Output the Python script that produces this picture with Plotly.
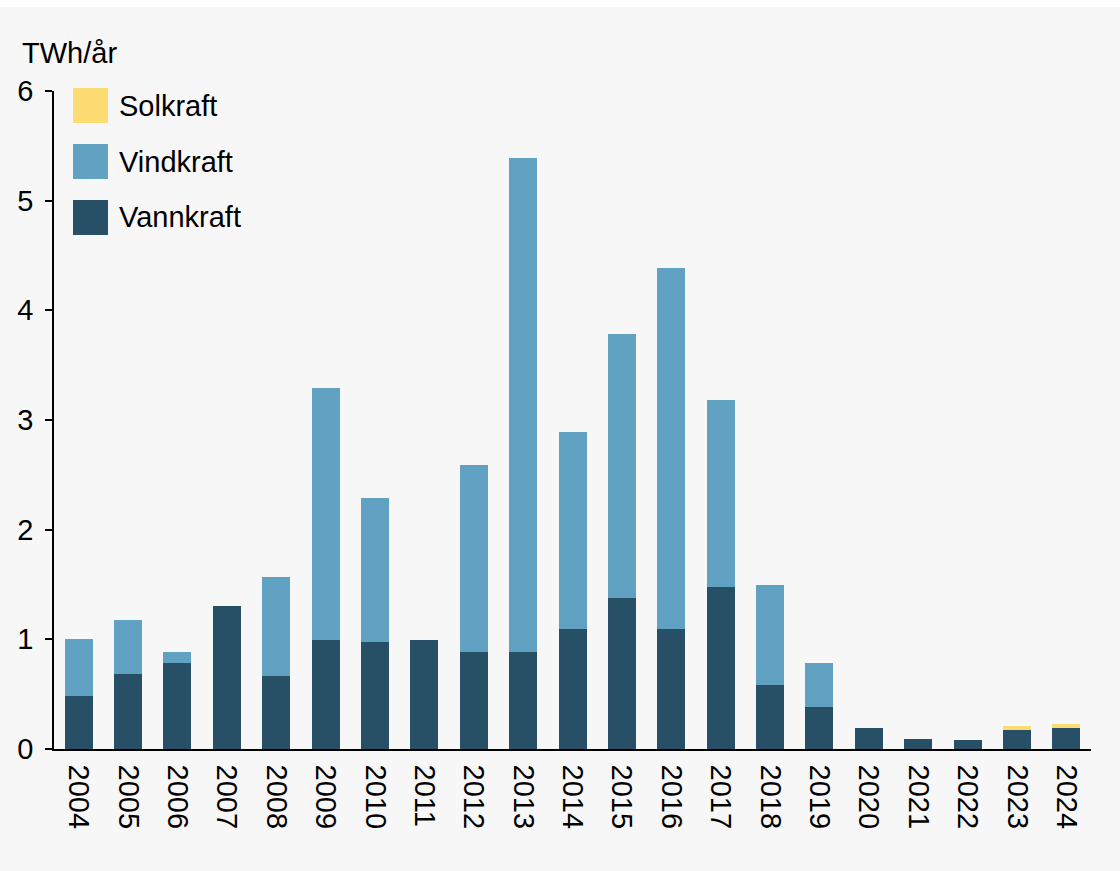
import plotly.graph_objects as go

years = [str(y) for y in range(2004, 2025)]
vannkraft = [0.48, 0.68, 0.78, 1.30, 0.67, 0.99, 0.98, 0.99, 0.88, 0.88, 1.09,
             1.38, 1.09, 1.48, 0.58, 0.38, 0.19, 0.09, 0.08, 0.17, 0.19]
vindkraft = [0.52, 0.50, 0.10, 0.00, 0.90, 2.30, 1.31, 0.00, 1.71, 4.51, 1.80,
             2.40, 3.30, 1.70, 0.92, 0.40, 0.00, 0.00, 0.00, 0.00, 0.00]
solkraft = [0, 0, 0, 0, 0, 0, 0, 0, 0, 0, 0,
            0, 0, 0, 0, 0, 0, 0, 0, 0.04, 0.04]

series_names = ["Vannkraft", "Vindkraft", "Solkraft"]
series_colors = ["#275066", "#61A2C3", "#FDDC74"]
series_values = [vannkraft, vindkraft, solkraft]

y_ticks = [0, 1, 2, 3, 4, 5, 6]
unit_label = "TWh/år"

FONT = "Liberation Sans, Arial, Helvetica, sans-serif"
FS = 29
W, H = 1120, 871
ML, MR, MT, MB = 54, 29, 91, 122
PW, PH = W - ML - MR, H - MT - MB

fig = go.Figure()
for name, color, vals in zip(series_names, series_colors, series_values):
    fig.add_trace(go.Bar(x=years, y=vals, name=name, marker_color=color,
                         marker_line_width=0, showlegend=False))

# custom legend (large swatches)
legend_order = ["Solkraft", "Vindkraft", "Vannkraft"]
color_of = dict(zip(series_names, series_colors))
sw_x0, sw_x1 = 73, 108
row_top0, row_h, row_step = 88, 35, 56
shapes = []
annotations = []
for i, name in enumerate(legend_order):
    top = row_top0 + i * row_step
    y0 = 1 - (top + row_h - MT) / PH
    y1 = 1 - (top - MT) / PH
    shapes.append(dict(type="rect", xref="paper", yref="paper",
                       x0=(sw_x0 - ML) / PW, x1=(sw_x1 - ML) / PW,
                       y0=y0, y1=y1, fillcolor=color_of[name],
                       line=dict(width=0)))
    annotations.append(dict(text=name, xref="paper", yref="paper",
                            x=(117 - ML) / PW, y=(y0 + y1) / 2,
                            xanchor="left", yanchor="middle", showarrow=False,
                            font=dict(family=FONT, size=FS, color="#000000")))

annotations.append(dict(text=unit_label, xref="paper", yref="paper",
                        x=(20 - ML) / PW, y=1 + (MT - 53) / PH,
                        xanchor="left", yanchor="middle", showarrow=False,
                        font=dict(family=FONT, size=FS, color="#000000")))

# white strip at the very top of the page
shapes.append(dict(type="rect", xref="paper", yref="paper",
                   x0=-ML / PW, x1=1 + MR / PW,
                   y0=1 + (MT - 7) / PH, y1=1 + MT / PH,
                   fillcolor="#ffffff", line=dict(width=0), layer="below"))

fig.update_layout(
    width=W, height=H,
    margin=dict(l=ML, r=MR, t=MT, b=MB, pad=0),
    barmode="stack", bargap=0.433,
    paper_bgcolor="#F7F7F7", plot_bgcolor="#F7F7F7",
    font=dict(family=FONT, size=FS, color="#000000"),
    shapes=shapes, annotations=annotations,
    showlegend=False,
    xaxis=dict(type="category", tickangle=90, showgrid=False, zeroline=False,
               showline=True, linecolor="#000000", linewidth=1.5,
               ticks="", ticklabelstandoff=8,
               tickfont=dict(family=FONT, size=FS, color="#000000")),
    yaxis=dict(range=[0, 6], tickvals=y_ticks, showgrid=False, zeroline=False,
               showline=True, linecolor="#000000", linewidth=1.5,
               ticks="outside", ticklen=7, tickwidth=1.5, tickcolor="#000000",
               ticklabelstandoff=6,
               tickfont=dict(family=FONT, size=FS, color="#000000")),
)

fig.write_html("out.html",
               config={"displayModeBar": False},
               post_script="document.body.style.margin='0px';"
                           "document.body.style.overflow='hidden';")
